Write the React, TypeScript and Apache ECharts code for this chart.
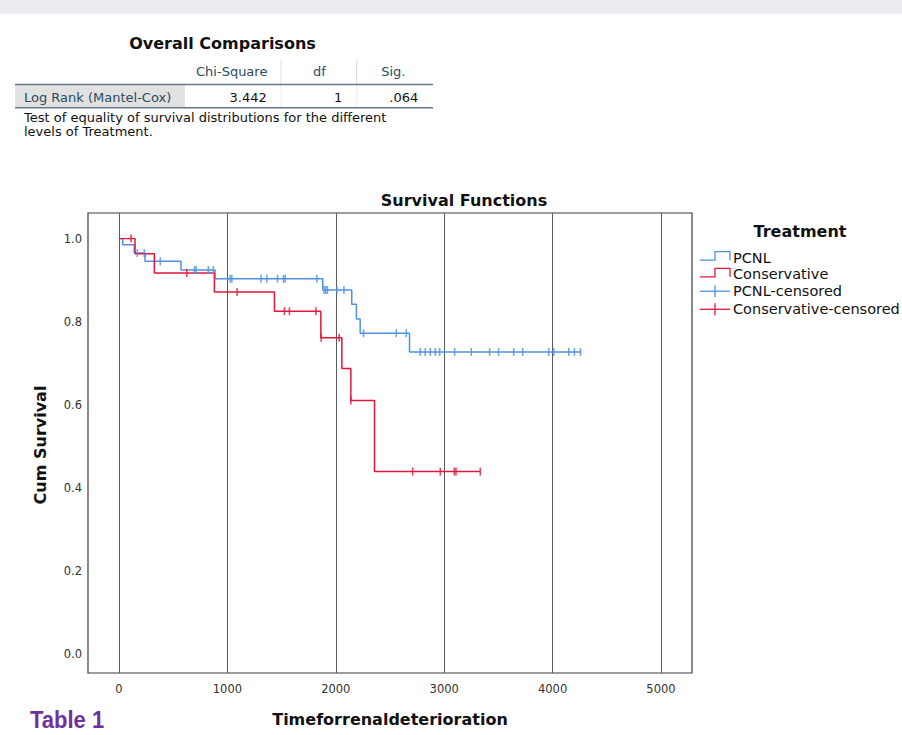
import React, { useEffect, useRef } from "react";
import * as echarts from "echarts";

// ---- Data ----
const xTicks = [0, 1000, 2000, 3000, 4000, 5000];
const yTicks = [0.0, 0.2, 0.4, 0.6, 0.8, 1.0];

// PCNL Kaplan-Meier steps (time, cumulative survival after the step)
const pcnlTimes = [0, 34, 141, 240, 572, 886, 1880, 2147, 2190, 2225, 2680, 4263];
const pcnlSurv = [1.0, 0.985, 0.965, 0.945, 0.924, 0.903, 0.876, 0.842, 0.806, 0.772, 0.727, 0.727];
const pcnlCensored = [
  169, 233, 381, 696, 711, 824, 870, 1025, 1041, 1311, 1364, 1462, 1517, 1533, 1825,
  1892, 1908, 1923, 2010, 2075, 2256, 2558, 2650, 2779, 2825, 2872, 2918, 2958, 3096,
  3250, 3419, 3502, 3641, 3724, 3964, 4010, 4149, 4201, 4257,
];

// Conservative Kaplan-Meier steps
const consTimes = [0, 148, 326, 880, 1434, 1862, 2056, 2139, 2357, 3333];
const consSurv = [1.0, 0.963, 0.917, 0.871, 0.825, 0.761, 0.687, 0.61, 0.439, 0.439];
const consCensored = [111, 625, 1090, 1526, 1572, 1816, 1865, 2031, 2139, 2709, 2964, 3093, 3109, 3333];

// Overall comparisons table
const tableHeaders = ["Chi-Square", "df", "Sig."];
const tableRowLabel = "Log Rank (Mantel-Cox)";
const tableRowValues = ["3.442", "1", ".064"];
const tableNote = [
  "Test of equality of survival distributions for the different",
  "levels of Treatment.",
];

const legendItems = ["PCNL", "Conservative", "PCNL-censored", "Conservative-censored"];

const BLUE = "#4f92e3";
const RED = "#e3163c";
const FONT = "DejaVu Sans";

function survAt(times: number[], surv: number[], t: number) {
  let s = surv[0];
  for (let i = 0; i < times.length; i++) if (times[i] <= t) s = surv[i];
  return s;
}

function buildOption() {
  const pcnlLine = pcnlTimes.map((t, i) => [t, pcnlSurv[i]]);
  const consLine = consTimes.map((t, i) => [t, consSurv[i]]);
  const pcnlCens = pcnlCensored.map((t) => [t, survAt(pcnlTimes, pcnlSurv, t)]);
  const consCens = consCensored.map((t) => [t, survAt(consTimes, consSurv, t)]);

  const hdrColor = "#2b4a5f";
  const colCenters = [231.7, 319.3, 393.3];
  const valRight = [266.7, 342.3, 418.3];

  const graphics: any[] = [
    { type: "rect", shape: { x: 0, y: 0, width: 902, height: 14 }, style: { fill: "#eeecf0" }, silent: true },
    {
      type: "text", x: 222.5, y: 43.5,
      style: { text: "Overall Comparisons", fontFamily: FONT, fontSize: 16, fontWeight: "bold", fill: "#111", align: "center", verticalAlign: "middle" },
    },
    ...tableHeaders.map((h, i) => ({
      type: "text", x: colCenters[i], y: 71.7,
      style: { text: h, fontFamily: FONT, fontSize: 13, fill: hdrColor, align: "center", verticalAlign: "middle" },
    })),
    { type: "line", shape: { x1: 281, y1: 60, x2: 281, y2: 84 }, style: { stroke: "#dcdcdc", lineWidth: 1 } },
    { type: "line", shape: { x1: 356.7, y1: 60, x2: 356.7, y2: 84 }, style: { stroke: "#dcdcdc", lineWidth: 1 } },
    { type: "rect", shape: { x: 15, y: 85, width: 170, height: 22 }, style: { fill: "#e1e1e1" } },
    { type: "line", shape: { x1: 281, y1: 85, x2: 281, y2: 107 }, style: { stroke: "#ececec", lineWidth: 1 } },
    { type: "line", shape: { x1: 356.7, y1: 85, x2: 356.7, y2: 107 }, style: { stroke: "#ececec", lineWidth: 1 } },
    { type: "line", shape: { x1: 15, y1: 84.5, x2: 433, y2: 84.5 }, style: { stroke: "#5f7b8a", lineWidth: 1.5 } },
    { type: "line", shape: { x1: 15, y1: 107.7, x2: 433, y2: 107.7 }, style: { stroke: "#5f7b8a", lineWidth: 1.5 } },
    {
      type: "text", x: 24, y: 97.7,
      style: { text: tableRowLabel, fontFamily: FONT, fontSize: 13, fill: hdrColor, align: "left", verticalAlign: "middle" },
    },
    ...tableRowValues.map((v, i) => ({
      type: "text", x: valRight[i], y: 97.7,
      style: { text: v, fontFamily: FONT, fontSize: 13, fill: "#111", align: "right", verticalAlign: "middle" },
    })),
    ...tableNote.map((n, i) => ({
      type: "text", x: 24, y: 117.5 + i * 14.2,
      style: { text: n, fontFamily: FONT, fontSize: 13, fill: "#111", align: "left", verticalAlign: "middle" },
    })),
    {
      type: "text", x: 464, y: 200,
      style: { text: "Survival Functions", fontFamily: FONT, fontSize: 16, fontWeight: "bold", fill: "#111", align: "center", verticalAlign: "middle" },
    },
    {
      type: "text", x: 800, y: 231,
      style: { text: "Treatment", fontFamily: FONT, fontSize: 16, fontWeight: "bold", fill: "#111", align: "center", verticalAlign: "middle" },
    },
    {
      type: "text", x: 390, y: 719,
      style: { text: "Timeforrenaldeterioration", fontFamily: FONT, fontSize: 16, fontWeight: "bold", fill: "#111", align: "center", verticalAlign: "middle" },
    },
    {
      type: "text", x: 40, y: 445, rotation: Math.PI / 2,
      style: { text: "Cum Survival", fontFamily: FONT, fontSize: 16, fontWeight: "bold", fill: "#111", align: "center", verticalAlign: "middle" },
    },
    {
      type: "text", x: 30, y: 720, scaleY: 1.1, originX: 0, originY: 0,
      style: { text: "Table 1", fontFamily: "Liberation Sans Narrow, Liberation Sans", fontSize: 22, fontWeight: "bold", fill: "#7030a0", align: "left", verticalAlign: "middle" },
    },
  ];

  const legendY = [257.7, 274.3, 291.2, 309.3];
  legendItems.forEach((name, i) => {
    const y = legendY[i];
    const color = i % 2 === 0 ? BLUE : RED;
    if (i < 2) {
      graphics.push({
        type: "polyline",
        shape: { points: [[700, y + 2.5], [715, y + 2.5], [715, y - 6], [730, y - 6], [730, y + 2.5]] },
        style: { stroke: color, fill: null, lineWidth: 1.3 },
      });
    } else {
      graphics.push({ type: "line", shape: { x1: 700, y1: y, x2: 730, y2: y }, style: { stroke: color, lineWidth: 1.3 } });
      graphics.push({ type: "line", shape: { x1: 715, y1: y - 6, x2: 715, y2: y + 6 }, style: { stroke: color, lineWidth: 1.3 } });
    }
    graphics.push({
      type: "text", x: 733, y,
      style: { text: name, fontFamily: FONT, fontSize: 14.5, fill: "#111", align: "left", verticalAlign: "middle" },
    });
  });

  return {
    animation: false,
    backgroundColor: "#ffffff",
    textStyle: { fontFamily: FONT },
    grid: [
      { left: 88, right: 210, top: 213, bottom: 62, show: true, borderColor: "#3c3c3c", borderWidth: 1.2, backgroundColor: "transparent" },
      { left: 119, right: 241, top: 213, bottom: 62 },
      { left: 119, right: 241, top: 238.5, bottom: 81 },
    ],
    xAxis: [
      { gridIndex: 0, type: "value", min: 0, max: 1, show: false },
      {
        gridIndex: 1, type: "value", min: xTicks[0], max: xTicks[xTicks.length - 1], interval: 1000,
        axisLine: { show: false }, axisTick: { show: false },
        splitLine: { show: true, lineStyle: { color: "#5a5a5a", width: 1 } },
        axisLabel: { fontFamily: FONT, fontSize: 11.5, color: "#333", margin: 10, formatter: (v: number) => String(v) },
      },
      { gridIndex: 2, type: "value", min: xTicks[0], max: xTicks[xTicks.length - 1], show: false },
    ],
    yAxis: [
      { gridIndex: 0, type: "value", min: 0, max: 1, show: false },
      { gridIndex: 1, type: "value", min: 0, max: 1, show: false },
      {
        gridIndex: 2, type: "value", min: yTicks[0], max: yTicks[yTicks.length - 1], interval: 0.2,
        axisLine: { show: false }, axisTick: { show: false }, splitLine: { show: false },
        axisLabel: { fontFamily: FONT, fontSize: 11.5, color: "#333", margin: 37, formatter: (v: number) => v.toFixed(1) },
      },
    ],
    series: [
      {
        name: "PCNL", type: "line", step: "end", xAxisIndex: 2, yAxisIndex: 2, data: pcnlLine,
        showSymbol: false, lineStyle: { color: BLUE, width: 1.5 }, z: 3,
      },
      {
        name: "Conservative", type: "line", step: "end", xAxisIndex: 2, yAxisIndex: 2, data: consLine,
        showSymbol: false, lineStyle: { color: RED, width: 1.5 }, z: 4,
      },
      {
        name: "PCNL-censored", type: "scatter", xAxisIndex: 2, yAxisIndex: 2, data: pcnlCens,
        symbol: "rect", symbolSize: [1.6, 8], itemStyle: { color: BLUE }, z: 5,
      },
      {
        name: "Conservative-censored", type: "scatter", xAxisIndex: 2, yAxisIndex: 2, data: consCens,
        symbol: "rect", symbolSize: [1.6, 8], itemStyle: { color: RED }, z: 6,
      },
    ],
    graphic: graphics,
  };
}

export default function App() {
  const ref = useRef<HTMLDivElement>(null);
  useEffect(() => {
    document.body.style.margin = "0";
    const chart = echarts.init(ref.current as HTMLDivElement, null, { renderer: "svg" });
    chart.setOption(buildOption() as any);
    return () => chart.dispose();
  }, []);
  return (
    <div
      ref={ref}
      style={{ width: 902, height: 735, position: "absolute", left: 0, top: 0, background: "#fff" }}
    />
  );
}
